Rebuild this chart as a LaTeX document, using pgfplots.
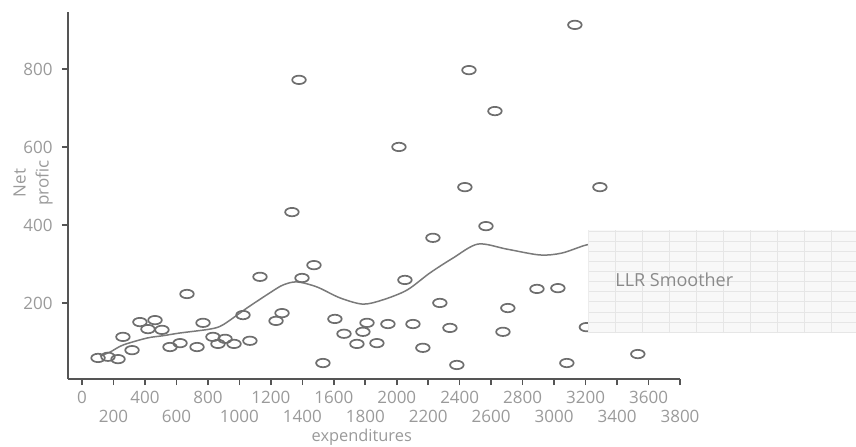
\documentclass[border=0pt]{standalone}
\usepackage{fontspec}
\setmainfont{Open Sans}
\usepackage{pgfplots}
\pgfplotsset{compat=1.18}
\definecolor{axisc}{HTML}{555555}
\definecolor{tickc}{HTML}{9A9A9A}
\definecolor{markc}{HTML}{6E6E6E}
\definecolor{linec}{HTML}{7A7A7A}
\definecolor{legfill}{HTML}{F8F8F8}
\definecolor{gridc}{HTML}{E6E6E6}
\definecolor{legtext}{HTML}{8A8A8A}
\pgfdeclareplotmark{ell}{\pgfpathellipse{\pgfpointorigin}{\pgfqpoint{3.4pt}{0pt}}{\pgfqpoint{0pt}{2.1pt}}\pgfusepathqstroke}

\pgfplotstableread{
x y
102 59
165 62
229 56
260 113
318 79
368 151
419 133
464 156
508 131
559 87
623 97
667 223
731 87
769 149
832 113
864 95
909 108
966 95
1023 169
1067 103
1131 267
1233 154
1271 174
1334 433
1379 772
1398 264
1474 297
1531 46
1607 159
1665 121
1747 95
1785 126
1811 149
1874 97
1944 146
2014 600
2052 259
2103 146
2166 85
2230 367
2274 200
2338 136
2382 41
2433 497
2459 797
2567 397
2624 692
2675 126
2706 187
2891 236
3024 238
3081 46
3132 913
3205 138
3291 497
3532 69
}\pts

\pgfplotstableread{
x y
114 64
178 74
260 92
413 110
515 116
623 123
813 133
896 144
1048 187
1194 226
1277 246
1366 254
1493 241
1639 213
1785 197
1912 208
2065 233
2211 277
2357 315
2516 351
2700 338
2910 323
3050 328
3208 349
3320 352
}\smoother

\begin{document}
\begin{tikzpicture}
\path[use as bounding box] (0,0) rectangle (428pt,223pt);
\begin{axis}[
  at={(34pt,33.5pt)}, anchor=south west,
  scale only axis, width=306pt, height=183.5pt,
  xmin=-89, xmax=3800, ymin=5, ymax=946,
  axis lines=left,
  axis line style={axisc, line width=1pt, -},
  xtick={0,400,...,3600},
  extra x ticks={200,600,...,3800},
  extra x tick style={tick label style={yshift=-9.5pt}},
  ytick={200,400,600,800},
  tick align=outside, major tick length=3pt,
  tick style={axisc, line width=0.8pt},
  /pgf/number format/assume math mode=true,
  /pgf/number format/1000 sep={},
  tick label style={font=\fontsize{8.5}{10}\selectfont, text=tickc, inner sep=0pt},
  xticklabel shift=3pt,
  yticklabel shift=4.5pt,
  xlabel={expenditures},
  xlabel style={at={(axis description cs:0.48,-0.158)}, anchor=center, font=\fontsize{8.2}{10}\selectfont, text=tickc},
  ylabel={Net\\profic},
  ylabel style={at={(axis description cs:-0.057,0.534)}, anchor=center, align=center, font=\fontsize{8.5}{11.5}\selectfont, text=tickc},
  clip=false,
  legend style={at={(axis description cs:0.8497,0.406)}, anchor=north west, draw=none, fill=legfill, inner sep=0pt, column sep=0pt,
    font=\fontsize{9}{11}\selectfont, text=legtext, nodes={inner sep=0pt},
    path picture={\draw[gridc, line width=0.4pt, xstep=13.5pt, ystep=5pt] (path picture bounding box.south west) grid (path picture bounding box.north east);}},
]
\addplot[only marks, mark=ell, mark options={markc, line width=0.85pt}, forget plot] table[x=x, y=y] {\pts};
\addplot[linec, line width=0.75pt, smooth, no marks, legend image code/.code={}] table[x=x, y=y] {\smoother};
\addlegendentry{\raisebox{22pt}[50pt][0pt]{\makebox[134pt][l]{\hspace{13.5pt}LLR Smoother}}}
\end{axis}
\end{tikzpicture}
\end{document}
